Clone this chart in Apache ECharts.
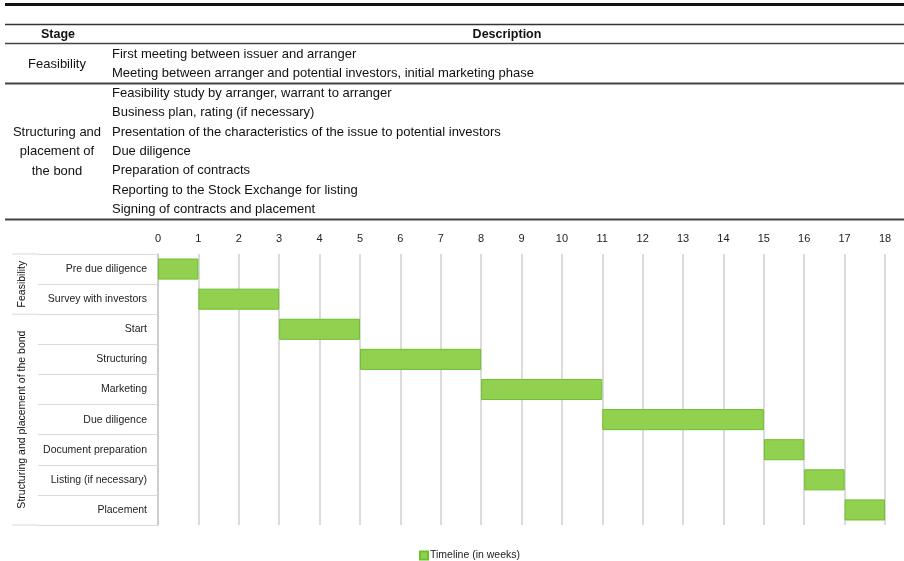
<!DOCTYPE html>
<html>
<head>
<meta charset="utf-8">
<script src="https://cdn.jsdelivr.net/npm/echarts@6/dist/echarts.min.js"></script>
<style>
  html, body { margin: 0; padding: 0; background: #fff; }
  #chart { width: 904px; height: 561px; }
</style>
</head>
<body>
<div id="chart"></div>
<script>
// table data
const tableStages = ['Feasibility', 'Structuring and\nplacement of\nthe bond'];
const feasibilityDesc = [
  'First meeting between issuer and arranger',
  'Meeting between arranger and potential investors, initial marketing phase'
];
const structuringDesc = [
  'Feasibility study by arranger, warrant to arranger',
  'Business plan, rating (if necessary)',
  'Presentation of the characteristics of the issue to potential investors',
  'Due diligence',
  'Preparation of contracts',
  'Reporting to the Stock Exchange for listing',
  'Signing of contracts and placement'
];

// gantt data
const taskNames = ['Pre due diligence', 'Survey with investors', 'Start', 'Structuring', 'Marketing',
  'Due diligence', 'Document preparation', 'Listing (if necessary)', 'Placement'];
const startWeeks = [0, 1, 3, 5, 8, 11, 15, 16, 17];
const durationWeeks = [1, 2, 2, 3, 3, 4, 1, 1, 1];
const groupNames = ['Feasibility', 'Structuring and placement of the bond'];
const groupSizes = [2, 7];
const weekMin = 0, weekMax = 18;

const FONT = '"Liberation Sans", Arial, sans-serif';
const gridTop = 254, gridBottom = 36, gridLeft = 158, gridRight = 19;

// --- table graphics
let g = [];
const hline = (y, w, c, x1 = 5, x2 = 904) => g.push({
  type: 'line', shape: { x1, y1: y, x2, y2: y }, style: { stroke: c, lineWidth: w }, silent: true
});
const txt = (x, y, text, opt = {}) => g.push({
  type: 'text', x, y, silent: true,
  style: Object.assign({ text, fill: '#111', font: '13px ' + FONT, align: 'left', verticalAlign: 'middle', lineHeight: 19.5 }, opt)
});

const rowH = 19.4, firstRow = 54.5;
hline(4.5, 3, '#111');
hline(24.5, 1.5, '#333');
txt(58, 35, 'Stage', { align: 'center', font: 'bold 12.5px ' + FONT });
txt(507, 35, 'Description', { align: 'center', font: 'bold 12.5px ' + FONT });
hline(43.5, 1.5, '#444');

let r = 0;
[feasibilityDesc, structuringDesc].forEach((list, gi) => {
  const y0 = firstRow + r * rowH;
  list.forEach((d, i) => txt(112, y0 + i * rowH, d));
  txt(57, y0 + (list.length - 1) * rowH / 2, tableStages[gi], { align: 'center' });
  r += list.length;
  hline(firstRow + (r - 0.5) * rowH, 2, '#444');
});

// --- left label box for gantt
const plotH = 561 - gridTop - gridBottom;
const bandH = plotH / taskNames.length;
let acc = 0;
hline(gridTop, 1, '#d9d9d9', 12, 38);
groupNames.forEach((name, gi) => {
  const yA = gridTop + acc * bandH;
  acc += groupSizes[gi];
  const yB = gridTop + acc * bandH;
  hline(yB, 1, '#d9d9d9', 12, 38);
  g.push({
    type: 'text', x: 22, y: (yA + yB) / 2, rotation: Math.PI / 2, silent: true,
    style: { text: name, fill: '#111', font: '10.5px ' + FONT, align: 'center', verticalAlign: 'middle' }
  });
});

const chart = echarts.init(document.getElementById('chart'));
chart.setOption({
  animation: false,
  backgroundColor: '#fff',
  textStyle: { fontFamily: FONT },
  graphic: g,
  legend: {
    data: ['Timeline (in weeks)'],
    left: 414, top: 545,
    icon: 'rect', itemWidth: 8, itemHeight: 8, itemGap: 2,
    textStyle: { fontSize: 10.5, color: '#222', fontFamily: FONT, padding: [0, 0, 0, -3] }
  },
  grid: { left: gridLeft, right: gridRight, top: gridTop, bottom: gridBottom },
  xAxis: {
    type: 'value', position: 'top', min: weekMin, max: weekMax, interval: 1,
    axisLine: { show: false }, axisTick: { show: false },
    axisLabel: { color: '#222', fontSize: 11, margin: 10 },
    splitLine: { show: true, lineStyle: { color: '#cfcfcf', width: 1.5 } }
  },
  yAxis: {
    type: 'category', inverse: true, data: taskNames,
    axisLine: { show: true, lineStyle: { color: '#c8c8c8', width: 1.5 } },
    axisTick: { show: true, length: 120, interval: 0, lineStyle: { color: '#d9d9d9' } },
    axisLabel: { color: '#222', fontSize: 10.5, margin: 11, interval: 0 }
  },
  series: [{
    name: 'base', type: 'bar', stack: 'gantt', data: startWeeks,
    itemStyle: { color: 'transparent' }, silent: true, barWidth: '70%'
  }, {
    name: 'Timeline (in weeks)', type: 'bar', stack: 'gantt', data: durationWeeks,
    barWidth: '70%',
    itemStyle: { color: '#92d050', borderColor: '#6cbf2e', borderWidth: 1 }
  }]
});
</script>
</body>
</html>
